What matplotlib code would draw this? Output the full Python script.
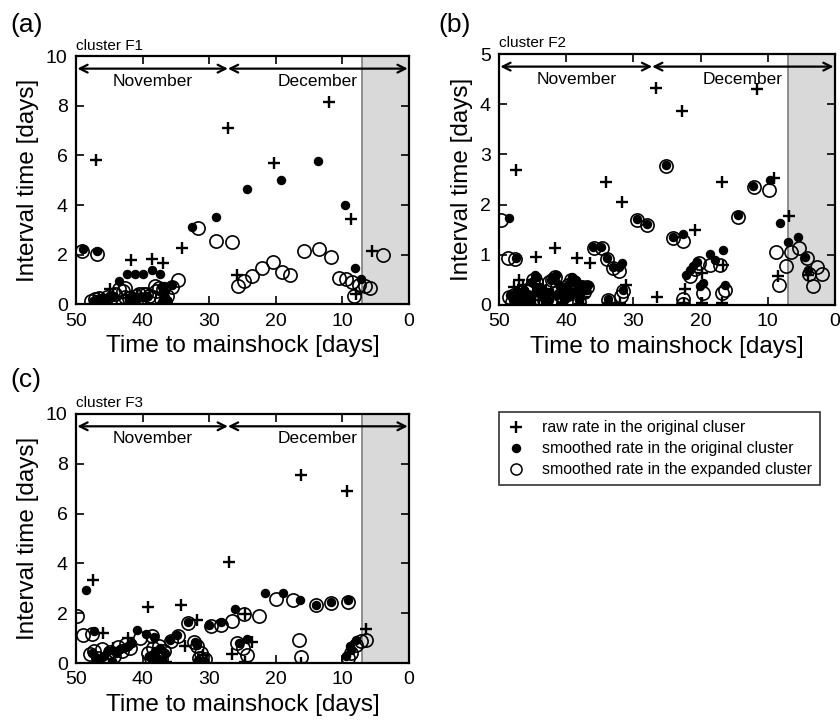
import numpy as np
import matplotlib
matplotlib.use('Agg')
import matplotlib.pyplot as plt
from matplotlib.lines import Line2D

plt.rcParams['font.family'] = ['Liberation Sans', 'DejaVu Sans']

# ---------------- cluster F1 ----------------
a_raw_x = [47.0, 27.15, 12.05, 20.3, 8.65, 34.15, 41.8, 38.55, 36.9, 25.8, 5.5, 8.0,
           44.9, 46.5, 44.5, 42.5, 40.8, 39.5, 36.5]
a_raw_y = [5.81, 7.11, 8.16, 5.70, 3.44, 2.26, 1.80, 1.84, 1.68, 1.17, 2.16, 0.43,
           0.6, 0.25, 0.35, 0.25, 0.4, 0.2, 0.2]
a_sm_x = [48.9, 46.8, 43.55, 42.35, 41.1, 39.9, 38.65, 37.4, 36.75, 35.6, 32.55, 29.0,
          24.35, 19.3, 13.6, 9.6, 8.15, 7.15,
          47.5, 47.0, 46.5, 46.0, 45.5, 45.0, 44.5, 42.0, 41.0, 40.2, 39.4,
          37.0, 36.7, 36.4, 36.8, 37.1]
a_sm_y = [2.23, 2.14, 0.94, 1.21, 1.21, 1.21, 1.37, 1.21, 0.73, 0.77, 3.12, 3.52,
          4.66, 5.0, 5.77, 4.02, 1.47, 1.01,
          0.15, 0.2, 0.15, 0.25, 0.2, 0.3, 0.35, 0.2, 0.25, 0.3, 0.35,
          0.15, 0.3, 0.1, 0.55, 0.7]
a_ex_x = [49.15, 46.9, 31.65, 29.05, 26.6, 25.75, 24.75, 23.55, 22.15, 20.5, 19.15, 17.9,
          15.8, 13.55, 11.65, 10.55, 9.4, 8.5, 8.3, 7.5, 6.65, 5.9, 3.9,
          34.65, 35.65, 38.15, 42.65,
          47.8, 47.2, 46.6, 46.0, 45.4, 44.8, 44.2, 43.6, 43.0,
          42.6, 42.0, 41.5, 41.0, 40.5, 40.0, 39.5, 39.0, 38.5, 38.0, 37.6,
          37.2, 36.6, 36.3, 36.9]
a_ex_y = [2.15, 2.02, 3.08, 2.55, 2.5, 0.73, 0.93, 1.14, 1.48, 1.71, 1.30, 1.17,
          2.14, 2.24, 1.91, 1.06, 1.02, 0.90, 0.34, 0.77, 0.75, 0.67, 2.0,
          0.97, 0.70, 0.73, 0.67,
          0.15, 0.2, 0.25, 0.15, 0.3, 0.25, 0.4, 0.6, 0.55,
          0.3, 0.25, 0.2, 0.35, 0.4, 0.4, 0.4, 0.35, 0.3, 0.55, 0.65,
          0.2, 0.1, 0.35, 0.6]

# ---------------- cluster F2 ----------------
b_raw_x = [47.5, 34.1, 31.75, 26.6, 22.7, 11.55, 16.85, 20.9, 9.0, 6.85, 8.55,
           41.65, 44.55, 38.45, 36.45, 47.0, 26.55, 31.15, 16.6, 19.85, 22.35,
           33.8, 32.0, 22.5, 19.8, 16.8, 40.6,
           47.8, 46.4, 45.0, 44.0, 43.0, 42.0, 39.0, 38.0, 37.5, 4.0]
b_raw_y = [2.69, 2.45, 2.06, 4.32, 3.87, 4.30, 2.46, 1.49, 2.54, 1.78, 0.58,
           1.13, 0.95, 0.94, 0.83, 0.50, 0.15, 0.40, 0.80, 0.63, 0.31,
           0.03, 0.03, 0.03, 0.03, 0.03, 0.03,
           0.35, 0.4, 0.5, 0.1, 0.3, 0.2, 0.2, 0.02, 0.15, 0.6]
b_sm_x = [48.45, 47.5, 29.5, 28.0, 25.2, 24.05, 22.55, 14.5, 12.15, 9.65, 8.2, 6.95,
          5.55, 4.45, 3.95, 16.7, 18.6, 36.05, 34.8, 33.9, 33.0, 32.1, 31.65, 33.8, 31.5,
          22.1, 21.6, 21.1, 20.6, 17.85, 16.35, 19.6, 20.1,
          48.3, 47.9, 47.5, 47.1, 46.7, 46.3, 45.9, 45.5, 45.1, 44.7, 44.3, 43.9,
          43.5, 43.1, 42.7, 42.3, 41.9, 41.5, 41.1, 40.7, 40.3, 39.9, 39.5, 39.1,
          38.7, 38.3, 37.9, 37.5, 37.1, 36.7,
          47.7, 46.9, 46.1, 45.3, 44.5, 43.3, 42.5, 41.3, 40.5, 39.7, 38.9, 38.1]
b_sm_y = [1.73, 0.94, 1.71, 1.61, 2.78, 1.35, 1.41, 1.79, 2.38, 2.49, 1.63, 1.25,
          1.36, 0.96, 0.70, 1.10, 1.01, 1.16, 1.16, 0.94, 0.76, 0.76, 0.83, 0.11, 0.30,
          0.6, 0.7, 0.78, 0.85, 0.90, 0.40, 0.43, 0.37,
          0.2, 0.1, 0.25, 0.05, 0.15, 0.3, 0.1, 0.2, 0.45, 0.6, 0.55, 0.35,
          0.15, 0.05, 0.25, 0.5, 0.55, 0.6, 0.4, 0.25, 0.1, 0.3, 0.45, 0.55,
          0.5, 0.35, 0.2, 0.4, 0.3, 0.4,
          0.05, 0.25, 0.2, 0.1, 0.3, 0.25, 0.1, 0.2, 0.35, 0.15, 0.25, 0.1]
b_ex_x = [49.7, 48.7, 47.6, 29.5, 28.0, 25.2, 24.05, 22.55, 14.4, 12.1, 9.75, 8.8,
          7.35, 8.3, 6.55, 5.3, 4.2, 3.3, 2.7, 1.9, 3.9,
          35.9, 34.7, 33.9, 33.0, 32.1, 33.8, 31.85, 31.5, 22.55, 22.55,
          18.6, 17.1, 16.85, 16.35, 19.7, 21.6, 20.9, 20.3,
          48.5, 48.1, 47.7, 47.3, 46.9, 46.5, 46.1, 45.7, 45.3, 44.9, 44.5, 44.1,
          43.7, 43.3, 42.9, 42.5, 42.1, 41.7, 41.3, 40.9, 40.5, 40.1, 39.7, 39.3,
          38.9, 38.5, 38.1, 37.7, 37.3, 36.9]
b_ex_y = [1.69, 0.94, 0.91, 1.69, 1.60, 2.76, 1.33, 1.28, 1.76, 2.36, 2.29, 1.05,
          0.78, 0.40, 1.05, 1.13, 0.93, 0.38, 0.76, 0.62, 0.62,
          1.13, 1.13, 0.91, 0.74, 0.68, 0.10, 0.18, 0.27, 0.11, 0.02,
          0.8, 0.8, 0.23, 0.30, 0.23, 0.58, 0.71, 0.83,
          0.15, 0.05, 0.2, 0.1, 0.2, 0.25, 0.05, 0.15, 0.35, 0.5, 0.45, 0.3,
          0.1, 0.1, 0.2, 0.45, 0.5, 0.55, 0.35, 0.2, 0.15, 0.25, 0.4, 0.5,
          0.45, 0.3, 0.05, 0.35, 0.25, 0.35]

# ---------------- cluster F3 ----------------
c_raw_x = [47.5, 39.15, 34.25, 27.0, 24.65, 16.25, 9.25, 6.4, 31.8, 45.9, 26.65, 23.65,
           33.65, 42.15, 24.7, 16.3, 30.9, 46.8, 44.5, 38.0, 36.5]
c_raw_y = [3.34, 2.23, 2.34, 4.05, 1.98, 7.55, 6.91, 1.38, 1.74, 1.20, 0.36, 0.83,
           0.70, 1.0, 0.03, 0.0, 0.33, 0.2, 0.6, 0.1, 0.05]
c_sm_x = [48.5, 47.25, 40.8, 39.55, 38.3, 34.9, 33.15, 30.0, 28.3, 26.15, 21.65, 18.9,
          16.4, 14.0, 11.75, 9.15, 24.4, 25.5, 7.9, 8.65, 35.9, 32.2, 31.8, 31.7, 31.2,
          47.6, 47.0, 46.4, 45.8, 45.2, 44.6, 44.0, 43.4, 42.8, 42.2, 41.6,
          39.0, 38.6, 38.2, 37.8, 37.4, 37.0, 36.6, 30.8, 9.4, 8.9]
c_sm_y = [2.94, 1.30, 1.31, 1.18, 1.04, 1.14, 1.63, 1.54, 1.64, 2.17, 2.81, 2.81,
          2.54, 2.34, 2.45, 2.54, 0.98, 0.80, 0.94, 0.53, 0.94, 0.85, 0.74, 0.13, 0.1,
          0.4, 0.2, 0.05, 0.3, 0.5, 0.1, 0.4, 0.55, 0.6, 0.7, 0.8,
          0.3, 0.1, 0.5, 0.2, 0.6, 0.05, 0.4, 0.1, 0.3, 0.7]
c_ex_x = [49.8, 48.9, 47.65, 40.4, 38.65, 34.75, 33.25, 29.75, 28.25, 26.55, 24.75,
          22.5, 20.0, 17.5, 14.0, 11.75, 9.15, 16.5, 16.25, 9.15, 8.7, 8.0, 7.25, 6.4,
          25.9, 24.9, 24.4, 32.3, 31.8, 31.3, 35.8,
          47.9, 47.3, 46.7, 46.1, 45.5, 44.9, 44.3, 43.7, 43.1, 42.5, 41.9,
          39.2, 38.8, 38.4, 38.0, 37.6, 37.2, 36.8, 31.6, 30.6]
c_ex_y = [1.90, 1.14, 1.18, 1.0, 1.07, 1.07, 1.6, 1.5, 1.51, 1.70, 1.98,
          1.90, 2.58, 2.54, 2.31, 2.41, 2.45, 0.94, 0.24, 0.20, 0.40, 0.74, 0.87, 0.94,
          0.8, 0.6, 0.33, 0.83, 0.67, 0.4, 0.87,
          0.35, 0.5, 0.2, 0.55, 0.1, 0.45, 0.3, 0.65, 0.5, 0.75, 0.6,
          0.4, 0.2, 0.6, 0.3, 0.7, 0.15, 0.5, 0.2, 0.15]

panels = [
    ('(a)', 'cluster F1', a_raw_x, a_raw_y, a_sm_x, a_sm_y, a_ex_x, a_ex_y, 10, 2),
    ('(b)', 'cluster F2', b_raw_x, b_raw_y, b_sm_x, b_sm_y, b_ex_x, b_ex_y, 5, 1),
    ('(c)', 'cluster F3', c_raw_x, c_raw_y, c_sm_x, c_sm_y, c_ex_x, c_ex_y, 10, 2),
]
rects = [[0.0905, 0.578, 0.3965, 0.344],
         [0.594, 0.577, 0.40, 0.348],
         [0.0905, 0.0804, 0.3965, 0.3456]]
label_pos = [(0.012, 0.965), (0.522, 0.965), (0.012, 0.473)]

fig = plt.figure(figsize=(8.4, 7.21), dpi=100)

for (lab, name, rx, ry, sx, sy, ex, ey, ymax, ystep), rect, lp in zip(panels, rects, label_pos):
    ax = fig.add_axes(rect)
    ax.axvspan(7.0, 0, color='#d9d9d9', zorder=0)
    ax.axvline(7.0, color='#808080', lw=1.2, zorder=1)
    ax.plot(ex, ey, 'o', ms=9.5, mfc='none', mec='black', mew=1.2, zorder=3)
    ax.plot(sx, sy, 'o', ms=5.8, mfc='black', mec='black', zorder=4)
    ax.plot(rx, ry, '+', ms=8.5, mew=1.7, color='black', zorder=5)

    ya = ymax * 0.95
    ax.annotate('', xy=(27.2, ya), xytext=(49.8, ya),
                arrowprops=dict(arrowstyle='<->', lw=1.6, color='black',
                                mutation_scale=14, shrinkA=0, shrinkB=0))
    ax.annotate('', xy=(0.2, ya), xytext=(27.2, ya),
                arrowprops=dict(arrowstyle='<->', lw=1.6, color='black',
                                mutation_scale=14, shrinkA=0, shrinkB=0))
    ax.text(38.5, ymax * 0.9, 'November', ha='center', va='center', fontsize=12.5)
    ax.text(13.8, ymax * 0.9, 'December', ha='center', va='center', fontsize=12.5)

    ax.set_xlim(50, 0)
    ax.set_ylim(0, ymax)
    ax.set_xticks([50, 40, 30, 20, 10, 0])
    ax.set_yticks(np.arange(0, ymax + 0.01, ystep))
    ax.tick_params(direction='in', top=True, right=True, length=6, width=1.2,
                   labelsize=14, pad=6)
    for sp in ax.spines.values():
        sp.set_linewidth(1.6)
    ax.set_xlabel('Time to mainshock [days]', fontsize=17.5, labelpad=4)
    ax.set_ylabel('Interval time [days]', fontsize=17.5, labelpad=5)
    ax.text(0.0, 1.015, name, transform=ax.transAxes, ha='left', va='bottom', fontsize=11)
    fig.text(lp[0], lp[1], lab, fontsize=19, ha='left', va='center')

handles = [
    Line2D([], [], ls='none', marker='+', ms=8.5, mew=1.7, color='black'),
    Line2D([], [], ls='none', marker='o', ms=5.8, mfc='black', mec='black'),
    Line2D([], [], ls='none', marker='o', ms=8, mfc='none', mec='black', mew=1.1),
]
labels = ['raw rate in the original cluser',
          'smoothed rate in the original cluster',
          'smoothed rate in the expanded cluster']
leg = fig.legend(handles, labels, loc='upper left', bbox_to_anchor=(0.594, 0.428),
                 fontsize=11.4, frameon=True, fancybox=False, edgecolor='black',
                 handletextpad=1.0, handlelength=1.2, borderpad=0.5, labelspacing=0.38,
                 borderaxespad=0)
leg.get_frame().set_linewidth(1.2)

fig.savefig('out.png', dpi=100)
